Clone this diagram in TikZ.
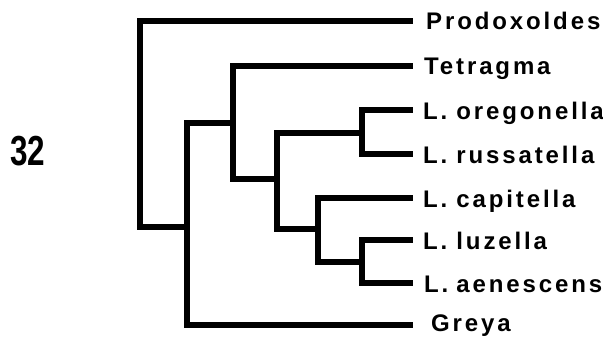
\documentclass[tikz,border=0pt]{standalone}
\usepackage{fontspec}
\setmainfont{Liberation Sans}
\newfontfamily\taxfont[LetterSpace=12]{Liberation Sans}
\usepackage{tikz}

\begin{document}
\begin{tikzpicture}[x=1pt,y=-1pt]
		\tikzstyle{every node}+=[inner sep=0pt]
		\tikzstyle{branch}=[black,line width=5.5pt,line join=miter,line cap=rect]
		\tikzstyle{taxon}=[anchor=base west,font=\taxfont\bfseries\fontsize{24}{24}\selectfont]
		\useasboundingbox (0,0) rectangle (603,337);
		\node [anchor=base west,xscale=0.75,font=\fontsize{42}{42}\selectfont\bfseries] (fig) at (10,165) {32};
		\coordinate (prod) at (410,21);
		\coordinate (tetr) at (410,66);
		\coordinate (oreg) at (410,110);
		\coordinate (russ) at (410,154);
		\coordinate (capi) at (410,198);
		\coordinate (luze) at (410,240);
		\coordinate (aene) at (410,283);
		\coordinate (grey) at (410,325);
		\node [taxon] (lprod) at (426,30) {Prodoxoldes};
		\node [taxon] (ltetr) at (424,75) {Tetragma};
		\node [taxon] (loreg) at (423,119) {L.\hspace{9pt}oregonella};
		\node [taxon] (lruss) at (423,163) {L.\hspace{9pt}russatella};
		\node [taxon] (lcapi) at (423,207) {L.\hspace{9pt}capitella};
		\node [taxon] (lluze) at (423,249) {L.\hspace{9pt}luzella};
		\node [taxon] (laene) at (424,292) {L.\hspace{8pt}aenescens};
		\node [taxon] (lgrey) at (431,331) {Greya};
		\coordinate (n1) at (140,227);
		\coordinate (n2) at (187,227);
		\coordinate (n3) at (233,123);
		\coordinate (n4) at (277,179);
		\coordinate (n5) at (362,133);
		\coordinate (n6) at (318,229);
		\coordinate (n7) at (362,262);
		\draw [branch] (prod) -| (n1) |- (n2);
		\draw [branch] (n3) -| (n2) |- (grey);
		\draw [branch] (tetr) -| (n3) |- (n4);
		\draw [branch] (n5) -| (n4) |- (n6);
		\draw [branch] (oreg) -| (n5) |- (russ);
		\draw [branch] (capi) -| (n6) |- (n7);
		\draw [branch] (luze) -| (n7) |- (aene);
	\end{tikzpicture}
\end{document}
